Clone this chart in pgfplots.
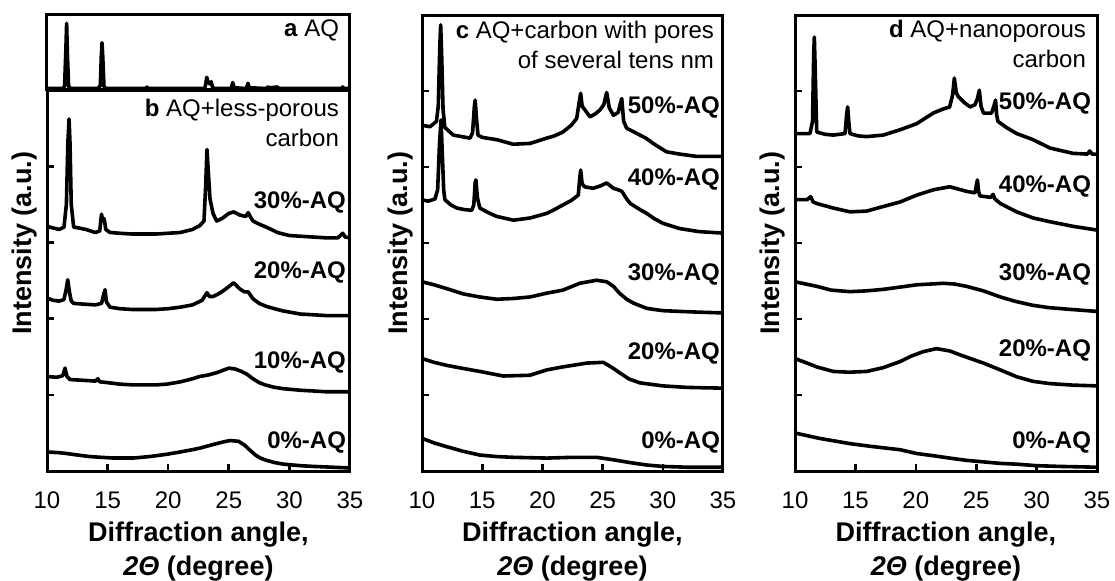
\documentclass[border=0pt]{standalone}
\usepackage{pgfplots}
\pgfplotsset{compat=1.18}
\usepackage{fontspec}
\setmainfont{Liberation Sans}
\tikzset{
  lab/.style={anchor=east, xshift=1.5pt, font=\bfseries\fontsize{12}{14}\selectfont},
  ttl/.style={anchor=east, xshift=-2pt, align=right, font=\fontsize{12}{15}\selectfont},
}
\pgfplotsset{
  xrd/.style={
    scale only axis,
    xmin=10, xmax=35,
    axis line style={line width=1.5pt},
    tick align=inside,
    tick pos=left,
    major tick length=3.5pt,
    every tick/.style={black, line width=1.3pt},
    yticklabels={},
    /pgf/number format/assume math mode=true,
    tick label style={font=\fontsize{12}{14}\selectfont},
    xtick={10,15,20,25,30,35},
    xticklabel style={yshift=-7pt},
    xlabel={Diffraction angle,\\\textit{2Θ} (degree)},
    xlabel style={font=\bfseries\fontsize{13.5}{17}\selectfont, align=center, at={(axis description cs:0.5,0)}, anchor=north, yshift=-22pt},
    ylabel style={font=\bfseries\fontsize{13.5}{16}\selectfont},
    every axis plot post/.append style={black, line width=1.8pt, line join=round, mark=none},
  },
}
\begin{document}
\begin{tikzpicture}
\path[use as bounding box] (0,0) rectangle (557.5pt,290pt);
% ---------- panel a ----------
\begin{axis}[xrd, at={(23.5pt,245pt)}, anchor=south west, width=151.5pt, height=37.5pt,
  ymin=0, ymax=1, xtick=\empty, ytick=\empty, xlabel={}]
\addplot coordinates {(10,0.02) (11.3,0.02) (11.45,0.05) (11.55,0.5) (11.62,0.89) (11.68,0.5) (11.78,0.05) (11.95,0.02) (14.2,0.02) (14.4,0.06) (14.48,0.45) (14.54,0.63) (14.6,0.45) (14.7,0.05) (14.85,0.02) (18.2,0.02) (18.25,0.04) (18.3,0.02) (23.0,0.02) (23.1,0.08) (23.18,0.17) (23.3,0.1) (23.45,0.08) (23.55,0.11) (23.65,0.04) (23.8,0.02) (25.2,0.02) (25.32,0.10) (25.45,0.03) (26.45,0.02) (26.58,0.09) (26.7,0.03) (28.1,0.02) (28.2,0.04) (28.4,0.03) (29.0,0.04) (29.15,0.02) (34.3,0.02) (34.4,0.04) (34.5,0.02) (35,0.02)};
\node[ttl] at (axis cs:35,0.8) {\textbf{a} AQ};
\end{axis}
% ---------- panel b ----------
\begin{axis}[xrd, at={(23.5pt,54.5pt)}, anchor=south west, width=151.5pt, height=190.5pt,
  ymin=0, ymax=5, ytick={1,2,3,4},
  ylabel={Intensity (a.u.)}, ylabel style={at={(axis description cs:-0.0726,0.598)}, anchor=center}]
\addplot coordinates {(10,3.21) (10.5,3.19) (11.0,3.17) (11.4,3.2) (11.6,3.5) (11.72,4.3) (11.82,4.62) (11.9,4.3) (12.0,3.5) (12.2,3.2) (12.6,3.19) (13.2,3.17) (14.0,3.13) (14.35,3.15) (14.5,3.37) (14.6,3.28) (14.72,3.31) (14.85,3.17) (15.2,3.13) (16,3.12) (17,3.11) (18,3.11) (19,3.11) (20,3.12) (21,3.13) (22,3.17) (22.6,3.22) (22.95,3.28) (23.08,3.7) (23.2,4.22) (23.32,3.9) (23.45,3.57) (23.7,3.38) (24,3.28) (24.5,3.32) (25,3.38) (25.4,3.40) (25.9,3.36) (26.4,3.34) (26.6,3.39) (26.8,3.33) (27,3.28) (27.5,3.24) (28.1,3.2) (28.5,3.17) (29,3.13) (29.5,3.11) (30,3.09) (31,3.08) (32,3.07) (33,3.06) (34,3.06) (34.4,3.12) (34.6,3.07) (35,3.06)};
\addplot coordinates {(10,2.27) (10.5,2.24) (11,2.23) (11.4,2.25) (11.6,2.4) (11.71,2.51) (11.85,2.35) (12.0,2.23) (12.2,2.2) (13,2.19) (14,2.18) (14.5,2.2) (14.7,2.33) (14.79,2.38) (14.9,2.22) (15.2,2.15) (16,2.13) (17,2.12) (18,2.12) (19,2.12) (20,2.13) (21,2.15) (22,2.18) (22.8,2.24) (23.2,2.34) (23.4,2.29) (23.7,2.29) (24.1,2.32) (24.5,2.36) (25,2.42) (25.4,2.47) (25.9,2.39) (26.3,2.35) (26.6,2.35) (27,2.26) (27.5,2.2) (28.1,2.16) (29,2.12) (29.5,2.1) (30.9,2.06) (32,2.05) (33,2.04) (35,2.04)};
\addplot coordinates {(10,1.24) (10.8,1.23) (11.3,1.25) (11.49,1.35) (11.65,1.24) (11.9,1.20) (13,1.19) (14.0,1.18) (14.2,1.21) (14.35,1.17) (15,1.16) (16,1.14) (17.1,1.13) (18,1.13) (19,1.13) (19.9,1.14) (21,1.17) (22,1.21) (22.6,1.24) (23.3,1.26) (24,1.29) (24.5,1.32) (25,1.35) (25.5,1.34) (26,1.31) (26.5,1.27) (27,1.21) (27.5,1.16) (28,1.13) (28.7,1.10) (29.5,1.08) (30.9,1.06) (32,1.05) (33,1.04) (35,1.04)};
\addplot coordinates {(10,0.25) (11,0.24) (11.6,0.23) (12.5,0.21) (13.5,0.19) (14.4,0.18) (15.5,0.17) (17.1,0.17) (18.5,0.19) (19.9,0.22) (21,0.25) (22,0.28) (22.6,0.30) (23.3,0.33) (24,0.36) (24.5,0.38) (25.1,0.40) (25.8,0.39) (26.3,0.34) (26.7,0.28) (27.2,0.21) (27.6,0.17) (28.1,0.14) (28.8,0.11) (29.5,0.09) (30.9,0.07) (32,0.06) (33.5,0.05) (35,0.04)};
\node[ttl] at (axis cs:35,4.57) {\textbf{b} AQ+less-porous\\carbon};
\node[lab] at (axis cs:35,3.53) {30\%-AQ};
\node[lab] at (axis cs:35,2.60) {20\%-AQ};
\node[lab] at (axis cs:35,1.42) {10\%-AQ};
\node[lab] at (axis cs:35,0.37) {0\%-AQ};
\end{axis}
% ---------- panel c ----------
\begin{axis}[xrd, at={(211pt,54.5pt)}, anchor=south west, width=150.5pt, height=228pt,
  ymin=0, ymax=6, ytick={1,2,3,4,5},
  ylabel={Intensity (a.u.)}, ylabel style={at={(axis description cs:-0.073,0.5)}, anchor=center}]
\addplot coordinates {(10,4.55) (10.66,4.53) (11.2,4.6) (11.35,4.8) (11.48,5.6) (11.55,5.87) (11.63,5.5) (11.75,4.75) (11.9,4.52) (12.6,4.42) (13.3,4.40) (13.99,4.38) (14.2,4.45) (14.35,4.8) (14.42,4.88) (14.52,4.65) (14.65,4.42) (15,4.39) (16.2,4.36) (17.56,4.30) (18.97,4.31) (20.36,4.38) (21.0,4.41) (21.7,4.46) (22.4,4.55) (22.85,4.64) (23.05,4.85) (23.18,4.97) (23.3,4.8) (23.54,4.75) (23.95,4.66) (24.4,4.70) (24.78,4.75) (25.1,4.82) (25.34,4.98) (25.55,4.78) (25.9,4.68) (26.3,4.72) (26.45,4.82) (26.59,4.90) (26.75,4.6) (27.0,4.51) (27.5,4.47) (28.1,4.42) (28.6,4.38) (29.2,4.31) (29.7,4.26) (30.3,4.20) (31.4,4.17) (32.8,4.14) (35,4.14)};
\addplot coordinates {(10,3.57) (10.5,3.55) (11.08,3.58) (11.3,3.7) (11.45,4.3) (11.58,4.62) (11.68,4.2) (11.8,3.7) (11.9,3.57) (12.4,3.5) (12.9,3.46) (13.5,3.44) (14.13,3.43) (14.3,3.5) (14.42,3.8) (14.48,3.83) (14.6,3.6) (14.8,3.46) (15.5,3.40) (16.2,3.35) (17.6,3.30) (19,3.33) (20.36,3.39) (21,3.44) (21.7,3.50) (22.4,3.56) (22.98,3.63) (23.1,3.85) (23.18,3.96) (23.3,3.78) (23.5,3.74) (24.2,3.72) (24.8,3.75) (25.34,3.79) (25.9,3.72) (26.3,3.70) (26.6,3.68) (27.0,3.58) (27.3,3.52) (28,3.45) (28.66,3.39) (29.3,3.32) (30,3.26) (31.4,3.19) (33,3.15) (35,3.13)};
\addplot coordinates {(10,2.49) (11,2.45) (12.05,2.40) (13.43,2.33) (14.8,2.29) (16.2,2.26) (17.6,2.27) (18.97,2.29) (20.36,2.34) (21.7,2.38) (23.1,2.47) (24.5,2.51) (25.34,2.49) (25.9,2.43) (26.4,2.34) (27.0,2.26) (27.55,2.21) (28.66,2.14) (30,2.11) (31.4,2.10) (33,2.09) (35,2.08)};
\addplot coordinates {(10,1.48) (11,1.43) (12.05,1.39) (13.4,1.35) (14.8,1.31) (16.75,1.25) (18.97,1.26) (20.36,1.33) (21.7,1.37) (23.7,1.42) (25.06,1.43) (25.8,1.36) (26.44,1.29) (27.2,1.21) (28.1,1.16) (30.0,1.12) (32,1.10) (35,1.09)};
\addplot coordinates {(10,0.43) (11,0.37) (12.05,0.32) (13.4,0.26) (14.8,0.21) (16.2,0.19) (17.6,0.18) (20.36,0.17) (22.5,0.18) (24.5,0.18) (25.8,0.15) (27.3,0.11) (28.6,0.08) (30,0.06) (32,0.05) (35,0.05)};
\node[ttl, xshift=1pt] at (axis cs:35,5.61) {\textbf{c} AQ+carbon with pores\\of several tens nm};
\node[lab, xshift=0.5pt] at (axis cs:35,4.78) {50\%-AQ};
\node[lab, xshift=0.5pt] at (axis cs:35,3.83) {40\%-AQ};
\node[lab, xshift=0.5pt] at (axis cs:35,2.58) {30\%-AQ};
\node[lab, xshift=0.5pt] at (axis cs:35,1.55) {20\%-AQ};
\node[lab, xshift=0.5pt] at (axis cs:35,0.37) {0\%-AQ};
\end{axis}
% ---------- panel d ----------
\begin{axis}[xrd, at={(397.5pt,54.5pt)}, anchor=south west, width=151pt, height=228pt,
  ymin=0, ymax=6, ytick={1,2,3,4,5},
  ylabel={Intensity (a.u.)}, ylabel style={at={(axis description cs:-0.073,0.5)}, anchor=center}]
\addplot coordinates {(10,4.44) (11.24,4.44) (11.45,4.6) (11.55,5.5) (11.6,5.71) (11.67,5.3) (11.8,4.46) (12.5,4.43) (13.17,4.42) (14.14,4.44) (14.28,4.7) (14.36,4.79) (14.45,4.6) (14.55,4.44) (15.2,4.41) (15.93,4.40) (17.3,4.42) (18.7,4.49) (20.07,4.57) (21.45,4.71) (22.2,4.76) (22.8,4.79) (23.05,4.95) (23.19,5.17) (23.35,4.98) (23.5,4.93) (24.0,4.85) (24.5,4.79) (24.9,4.82) (25.1,4.90) (25.26,5.01) (25.4,4.8) (25.6,4.71) (26.28,4.71) (26.5,4.82) (26.6,4.88) (26.7,4.68) (26.8,4.60) (27.5,4.52) (28.35,4.44) (29.7,4.36) (31.1,4.25) (33.0,4.18) (34.2,4.17) (34.4,4.21) (34.6,4.17) (35,4.17)};
\addplot coordinates {(10,3.57) (11.0,3.57) (11.3,3.61) (11.5,3.54) (11.8,3.52) (13.17,3.46) (14.55,3.41) (15.93,3.42) (17.3,3.48) (18.7,3.54) (20.07,3.63) (21.45,3.70) (22.8,3.74) (24.2,3.68) (24.9,3.66) (25.05,3.79) (25.1,3.83) (25.2,3.68) (25.3,3.62) (26.2,3.60) (26.4,3.64) (26.55,3.58) (27,3.52) (28.35,3.41) (29.7,3.33) (31.1,3.28) (33,3.22) (35,3.17)};
\addplot coordinates {(10,2.49) (11.8,2.43) (13,2.38) (14.55,2.36) (15.9,2.37) (17.3,2.39) (18.7,2.42) (20.07,2.45) (22.3,2.47) (23.2,2.46) (24.2,2.43) (25.6,2.37) (27,2.29) (28.3,2.23) (29.7,2.18) (31,2.15) (32.5,2.13) (35,2.10)};
\addplot coordinates {(10,1.48) (11,1.42) (11.8,1.37) (13.17,1.31) (14.5,1.30) (15.93,1.31) (17.3,1.36) (18.7,1.44) (19.6,1.51) (20.6,1.57) (21.7,1.61) (22.8,1.58) (23.8,1.52) (25.6,1.42) (27,1.33) (28.35,1.24) (29.7,1.18) (31.1,1.15) (33,1.13) (35,1.12)};
\addplot coordinates {(10,0.50) (12,0.43) (14.55,0.36) (16.5,0.32) (18.7,0.28) (20.07,0.23) (21.5,0.20) (22.8,0.17) (24.2,0.14) (25.6,0.12) (27,0.10) (28.35,0.09) (30,0.07) (32,0.06) (35,0.05)};
\node[ttl] at (axis cs:35,5.62) {\textbf{d} AQ+nanoporous\\carbon};
\node[lab, xshift=-1pt] at (axis cs:35,4.84) {50\%-AQ};
\node[lab, xshift=-1pt] at (axis cs:35,3.74) {40\%-AQ};
\node[lab, xshift=-1pt] at (axis cs:35,2.58) {30\%-AQ};
\node[lab, xshift=-1pt] at (axis cs:35,1.59) {20\%-AQ};
\node[lab, xshift=-1pt] at (axis cs:35,0.37) {0\%-AQ};
\end{axis}
\end{tikzpicture}
\end{document}
